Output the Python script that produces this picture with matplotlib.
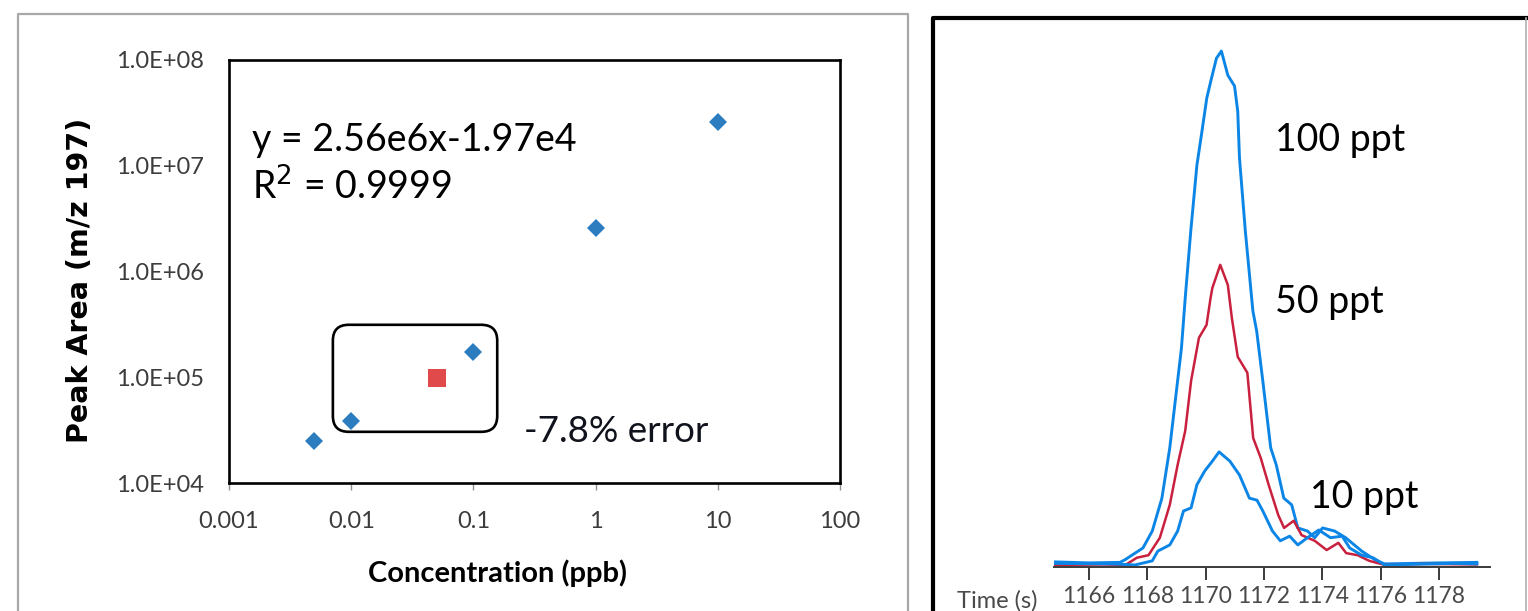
import matplotlib
matplotlib.use("Agg")
import matplotlib.pyplot as plt
from matplotlib.patches import FancyBboxPatch
from matplotlib.lines import Line2D
from matplotlib.ticker import FixedLocator, FixedFormatter, NullLocator

# calibration curve (log-log)
conc_ppb = [0.005, 0.01, 0.1, 1, 10]
peak_area = [2.5e4, 3.85e4, 1.73e5, 2.57e6, 2.6e7]
check_conc = [0.05]
check_area = [9.8e4]
x_ticks = [0.001, 0.01, 0.1, 1, 10, 100]
x_tick_labels = ["0.001", "0.01", "0.1", "1", "10", "100"]
y_ticks = [1e4, 1e5, 1e6, 1e7, 1e8]
y_tick_labels = ["1.0E+04", "1.0E+05", "1.0E+06", "1.0E+07", "1.0E+08"]

# chromatograms, m/z 197
t_100 = [1164.8, 1166.0, 1167.06, 1167.23, 1167.85, 1168.17, 1168.5, 1168.77, 1168.97,
         1169.17, 1169.3, 1169.49, 1169.7, 1169.84, 1170.04, 1170.2, 1170.37, 1170.54,
         1170.76, 1170.99, 1171.1, 1171.16, 1171.36, 1171.62, 1171.75, 1171.96, 1172.23,
         1172.42, 1172.68, 1172.95, 1173.16, 1173.49, 1173.74, 1174.01, 1174.42, 1174.8,
         1175.35, 1175.86, 1176.14, 1178.0, 1179.3]
i_100 = [0.6, 0.4, 0.5, 1.0, 3.3, 6.6, 13.0, 22.8, 32.5,
         42.2, 52.0, 65.0, 77.8, 83.1, 90.9, 94.7, 98.6, 100.0,
         95.3, 93.2, 88.3, 79.2, 65.0, 49.4, 45.5, 35.8, 22.8,
         19.5, 13.0, 11.7, 7.2, 6.6, 5.3, 7.2, 6.6, 5.3,
         2.7, 0.8, 0.2, 0.4, 0.5]
t_50 = [1164.8, 1166.5, 1167.25, 1167.64, 1168.04, 1168.43, 1168.77, 1169.04, 1169.3,
        1169.5, 1169.77, 1170.03, 1170.17, 1170.23, 1170.5, 1170.76, 1170.9, 1171.1,
        1171.43, 1171.63, 1171.89, 1172.16, 1172.49, 1172.69, 1173.02, 1173.29, 1173.74,
        1174.15, 1174.55, 1174.82, 1175.21, 1175.61, 1176.14, 1177.5, 1179.3]
i_50 = [0.0, 0.1, 0.0, 1.4, 1.9, 5.3, 11.7, 19.5, 26.1,
        35.8, 44.2, 46.7, 52.0, 53.9, 58.4, 54.5, 48.0, 40.5,
        37.4, 24.7, 20.8, 15.6, 9.7, 7.2, 8.6, 5.8, 4.7,
        2.9, 4.3, 2.3, 1.9, 0.8, 0.0, 0.2, 0.1]
t_10 = [1164.8, 1166.8, 1167.58, 1168.17, 1168.36, 1168.77, 1169.04, 1169.24, 1169.5,
        1169.7, 1169.97, 1170.23, 1170.46, 1170.83, 1171.16, 1171.5, 1171.76, 1171.96,
        1172.29, 1172.56, 1172.88, 1173.16, 1173.49, 1173.88, 1174.28, 1174.68, 1174.94,
        1175.35, 1175.74, 1176.14, 1178.5, 1179.3]
i_10 = [0.3, 0.2, 0.0, 0.8, 2.7, 3.9, 6.6, 10.5, 11.1,
        15.6, 18.3, 20.2, 22.0, 20.2, 17.5, 13.0, 12.6, 10.5,
        6.6, 4.7, 5.6, 3.9, 5.3, 6.8, 5.3, 5.6, 3.3,
        1.9, 1.4, 0.0, 0.3, 0.2]
time_ticks = [1166, 1168, 1170, 1172, 1174, 1176, 1178]
trace_labels = ["100 ppt", "50 ppt", "10 ppt"]

W, H = 1528, 611
fig = plt.figure(figsize=(W / 100, H / 100), dpi=100)
plt.rcParams["font.family"] = ["Lato", "DejaVu Sans"]


def fx(px):
    return px / W


def fy(py):
    return 1 - py / H


# panel frames
fig.add_artist(Line2D([fx(18), fx(18), fx(908), fx(908)], [fy(613), fy(14), fy(14), fy(613)],
                      transform=fig.transFigure, color="#a8a8a8", lw=1.6))
fig.add_artist(Line2D([fx(933), fx(933), fx(1526)], [fy(613), fy(18), fy(18)],
                      transform=fig.transFigure, color="black", lw=3.0))
fig.add_artist(Line2D([fx(1526), fx(1526)], [fy(18), fy(613)],
                      transform=fig.transFigure, color="#b0b0b0", lw=1.2))

# ---- left: calibration ----
ax = fig.add_axes([fx(229), fy(483), fx(840) - fx(229), fy(60) - fy(483)])
ax.set_xscale("log")
ax.set_yscale("log")
ax.set_xlim(1e-3, 1e2)
ax.set_ylim(1e4, 1e8)
ax.plot(conc_ppb, peak_area, linestyle="none", marker="D", markersize=9.2,
        color="#2b7dc0", markeredgewidth=0)
ax.plot(check_conc, check_area, linestyle="none", marker="s", markersize=12.5,
        color="#e04a4a", markeredgewidth=0)

ax.xaxis.set_major_locator(FixedLocator(x_ticks))
ax.xaxis.set_major_formatter(FixedFormatter(x_tick_labels))
ax.yaxis.set_major_locator(FixedLocator(y_ticks))
ax.yaxis.set_major_formatter(FixedFormatter(y_tick_labels))
ax.xaxis.set_minor_locator(NullLocator())
ax.yaxis.set_minor_locator(NullLocator())
ax.tick_params(axis="x", direction="out", length=5, width=1, color="#909090",
               labelsize=17, labelcolor="#3c3c3c", pad=15)
ax.tick_params(axis="y", length=0, labelsize=17, labelcolor="#3c3c3c", pad=18)
for s in ax.spines.values():
    s.set_linewidth(1.9)
    s.set_color("black")

ax.text(-0.244, 0.478, "Peak Area (m/z 197)", transform=ax.transAxes, rotation=90,
        family="DejaVu Sans", fontweight="bold", fontsize=20.5, ha="center", va="center")
ax.text(0.439, -0.213, "Concentration (ppb)", transform=ax.transAxes,
        fontweight="bold", fontsize=21, ha="center", va="center")

ax.text(0.038, 0.81, "y = 2.56e6x-1.97e4", transform=ax.transAxes, fontsize=27,
        va="center", ha="left")
ax.text(0.038, 0.70, "R$^2$ = 0.9999", transform=ax.transAxes, fontsize=27,
        va="center", ha="left")
ax.text(0.482, 0.122, "-7.8% error", transform=ax.transAxes, fontsize=26.5,
        va="center", ha="left", color="#10121c")

box = FancyBboxPatch((0.170, 0.121), 0.269, 0.253, transform=ax.transAxes,
                     boxstyle="round,pad=0,rounding_size=0.026", mutation_aspect=1.44,
                     facecolor="none", edgecolor="black", lw=1.9, clip_on=False)
ax.add_patch(box)

# ---- right: chromatograms ----
ax2 = fig.add_axes([fx(1054), fy(567), fx(1490) - fx(1054), fy(30) - fy(567)])
ax2.plot(t_100, i_100, color="#0c86e6", lw=2.1)
ax2.plot(t_50, i_50, color="#c9203e", lw=1.8)
ax2.plot(t_10, i_10, color="#0c86e6", lw=2.1)
ax2.set_xlim(1164.8, 1179.75)
ax2.set_ylim(-0.4, 104.1)
ax2.set_xticks(time_ticks)
ax2.set_yticks([])
for side in ["top", "right", "left"]:
    ax2.spines[side].set_visible(False)
ax2.spines["bottom"].set_color("#3a3a3a")
ax2.spines["bottom"].set_linewidth(1.4)
ax2.tick_params(axis="x", direction="out", length=9.5, width=1.4, color="#3a3a3a",
                labelsize=16.5, labelcolor="#4a4a4a", pad=4)
ax2.patch.set_alpha(0)

ax2.text(1172.37, 82.7, trace_labels[0], fontsize=27, va="center", ha="left")
ax2.text(1172.37, 51.2, trace_labels[1], fontsize=27, va="center", ha="left")
ax2.text(1173.57, 13.2, trace_labels[2], fontsize=27, va="center", ha="left")
fig.text(fx(957), fy(601), "Time (s)", fontsize=17, color="#4a4a4a", va="center", ha="left")

fig.savefig("out.png", dpi=100)
